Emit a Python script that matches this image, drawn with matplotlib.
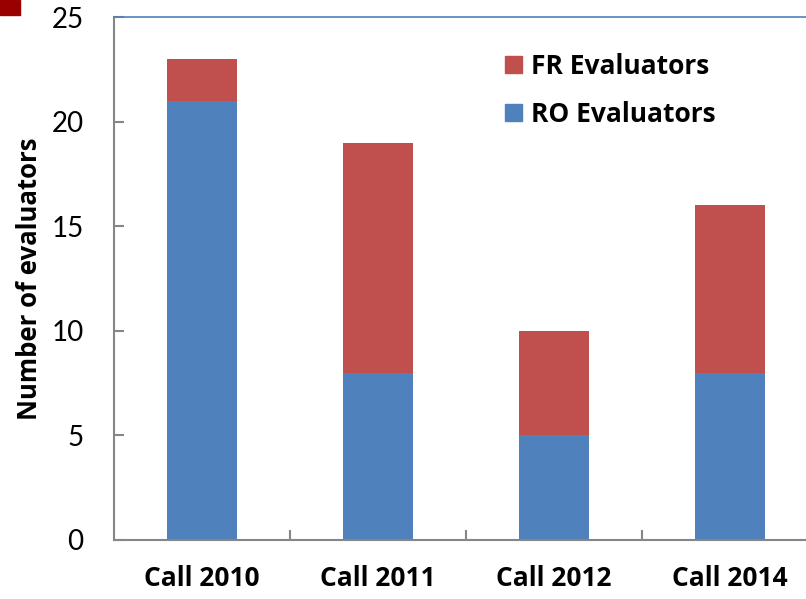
import matplotlib
matplotlib.use("Agg")
import matplotlib.pyplot as plt
from matplotlib.patches import Rectangle, Patch

categories = ["Call 2010", "Call 2011", "Call 2012", "Call 2014"]
ro_values = [21, 8, 5, 8]
fr_values = [2, 11, 5, 8]
y_ticks = [0, 5, 10, 15, 20, 25]

RED = "#C0504D"
BLUE = "#4F81BD"
GREY = "#868686"

plt.rcParams['font.family'] = ['Lato', 'DejaVu Sans']
BOLD = ['Open Sans', 'DejaVu Sans']

fig = plt.figure(figsize=(8.06, 5.99), dpi=100)
ax = fig.add_axes([114/806, 59/599, 704/806, 523/599])

x = list(range(len(categories)))
ax.bar(x, ro_values, width=0.40, color=BLUE, label="RO Evaluators", zorder=2)
ax.bar(x, fr_values, width=0.40, bottom=ro_values, color=RED, label="FR Evaluators", zorder=2)

ax.set_xlim(-0.5, len(categories) - 0.5)
ax.set_ylim(0, 25)
ax.set_yticks(y_ticks)
ax.set_xticks(x)
ax.set_xticklabels(categories, fontsize=19, fontweight='bold', family=BOLD)
ax.set_xticks([i + 0.5 for i in x[:-1]], minor=True)
ax.tick_params(axis='x', which='major', length=0, pad=18)
ax.tick_params(axis='x', which='minor', direction='in', length=7, width=1.5, color=GREY)
ax.tick_params(axis='y', direction='in', length=7, width=1.5, color=GREY, labelsize=20, pad=22)

ax.set_ylabel("Number of evaluators", fontsize=18.5, fontweight='bold', family=BOLD, labelpad=6)

for s in ['left', 'bottom']:
    ax.spines[s].set_color(GREY)
    ax.spines[s].set_linewidth(1.5)
ax.spines['right'].set_visible(False)
ax.spines['top'].set_color(BLUE)
ax.spines['top'].set_linewidth(1.2)

handles = [Patch(color=RED, label="FR Evaluators"), Patch(color=BLUE, label="RO Evaluators")]
ax.legend(handles=handles, loc='upper left', bbox_to_anchor=(481/806, 1 - 29/599),
          bbox_transform=fig.transFigure, frameon=False,
          prop={'size': 19, 'weight': 'bold', 'family': BOLD}, handlelength=0.65, handleheight=0.65,
          handletextpad=0.35, labelspacing=0.8)

fig.add_artist(Rectangle((0, 1 - 15/599), 20/806, 15/599, transform=fig.transFigure,
                         color="#990000", clip_on=False))

fig.savefig("out.png", dpi=100)
